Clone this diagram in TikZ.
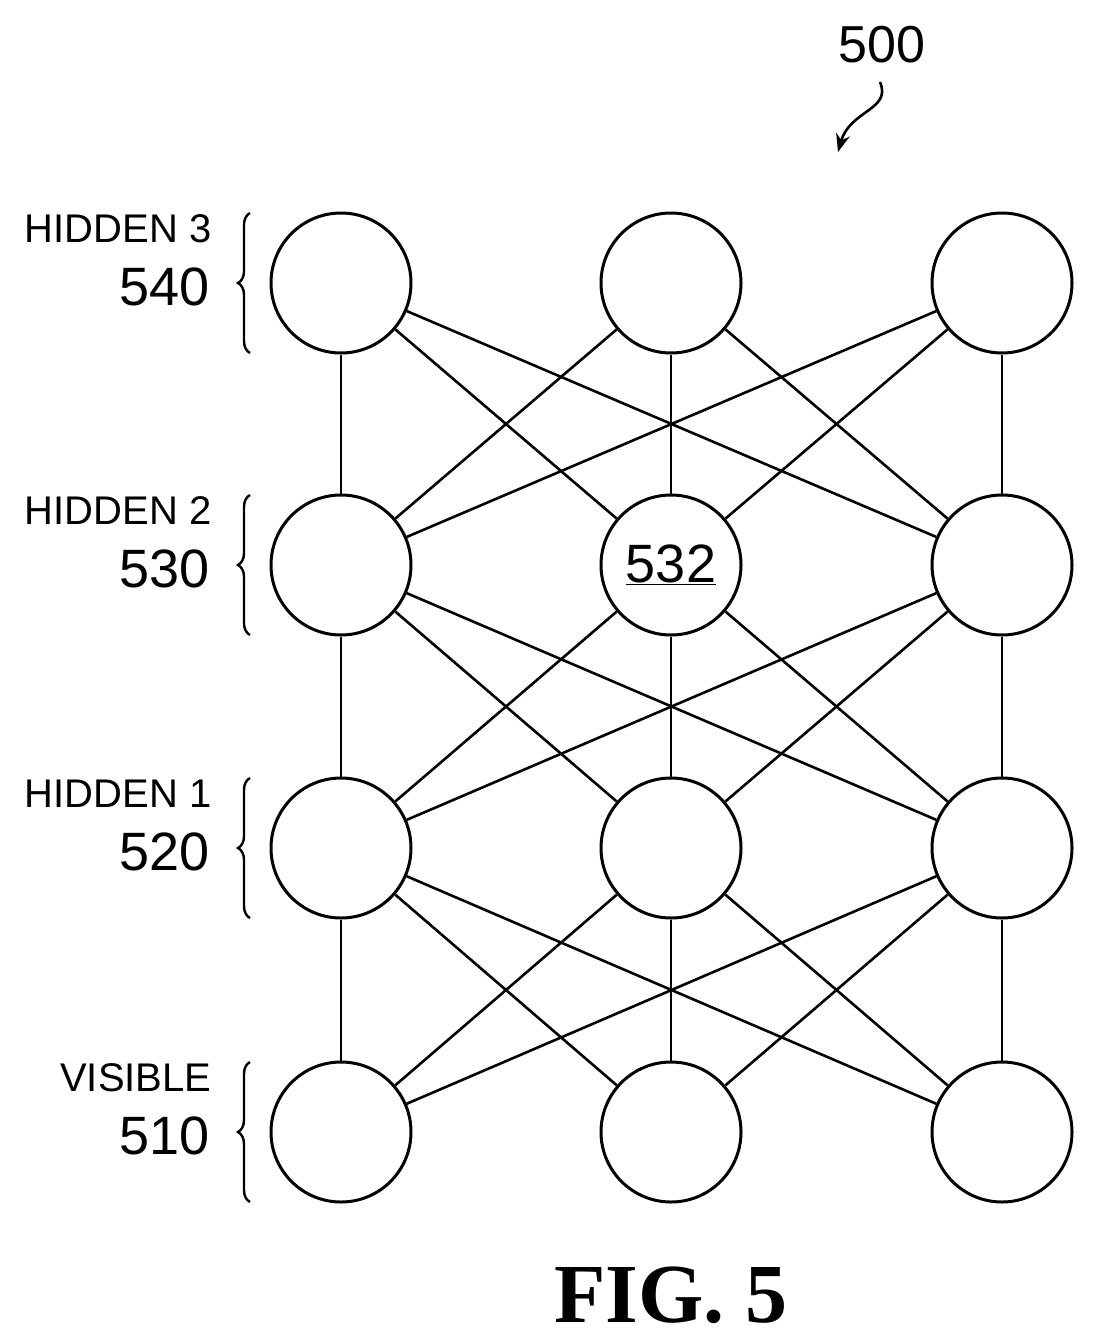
\documentclass[tikz,border=0pt]{standalone}
\usepackage{fontspec}
\setmainfont{Liberation Sans}
\newfontfamily\figfont{Liberation Serif}
\usetikzlibrary{decorations.pathreplacing,arrows.meta}
\begin{document}
\begin{tikzpicture}[x=1pt,y=-1pt,
  neuron/.style={circle,draw,line width=3pt,minimum size=140pt,inner sep=0pt},
  edge/.style={line width=2.6pt},
  lab/.style={anchor=east,font=\fontsize{40}{42}\selectfont},
  num/.style={anchor=east,font=\fontsize{54}{56}\selectfont},
  br/.style={decorate,decoration={brace,amplitude=12pt},line width=2.4pt}]
\useasboundingbox (0,0) rectangle (1097,1344);
\foreach \r/\y in {1/1132,2/848,3/565,4/283}{
  \foreach \c/\x in {1/341,2/671,3/1002}{
    \node[neuron] (n\r\c) at (\x,\y) {};
  }
}
\node[font=\fontsize{54}{56}\selectfont] (l532) at (n32) {\underline{532}};
\foreach \r/\s in {1/2,2/3,3/4}{
  \foreach \a in {1,2,3}{
    \foreach \b in {1,2,3}{
      \draw[edge] (n\r\a) -- (n\s\b);
    }
  }
}
\foreach \y/\t/\n in {283/HIDDEN 3/540, 565/HIDDEN 2/530, 848/HIDDEN 1/520, 1132/VISIBLE/510}{
  \draw[br] (250,\y+70) -- (250,\y-70);
  \node[lab] at (215,\y-54) {\t};
  \node[num] at (213,\y+4) {\n};
}
\node[font=\fontsize{52}{54}\selectfont] (t500) at (882,45) {500};
\coordinate (a0) at (880,82);
\coordinate (a1) at (838,152);
\draw[line width=2.6pt,-{Stealth[length=18pt,width=14pt]}] (a0) .. controls (892,110) and (850,110) .. (a1);
\node[font=\figfont\bfseries\fontsize{84}{86}\selectfont] (fig) at (671,1295) {FIG. 5};
\end{tikzpicture}
\end{document}
